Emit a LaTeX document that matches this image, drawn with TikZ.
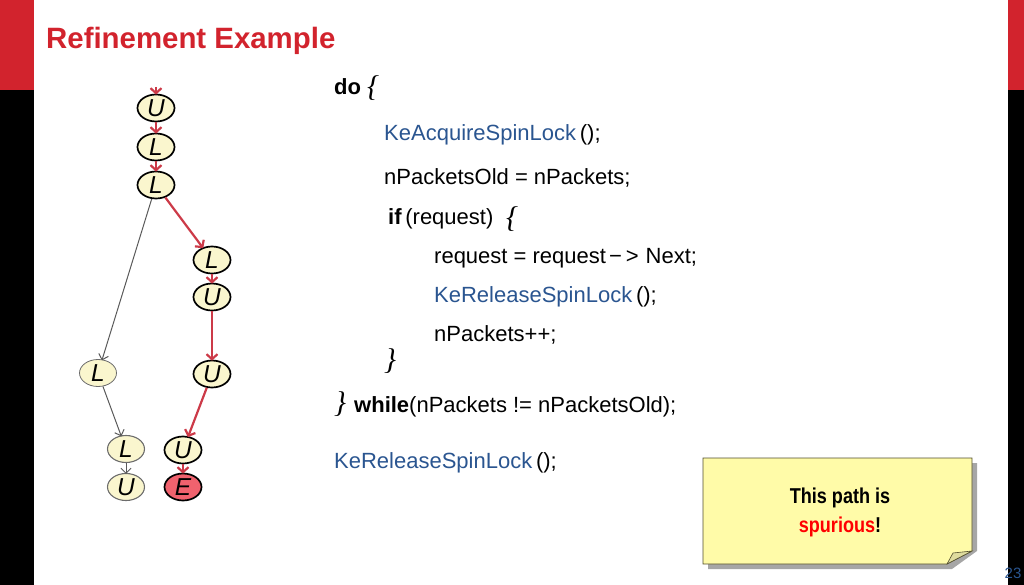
\documentclass[tikz,border=0pt]{standalone}
\usepackage{fontspec}
\setmainfont{Liberation Sans}
\newfontfamily\bracefont{Liberation Serif}
\usetikzlibrary{arrows.meta,shapes.geometric}
\definecolor{slidered}{HTML}{D2232D}
\definecolor{codeblue}{HTML}{2A5590}
\definecolor{nodefill}{HTML}{FAF6CE}
\definecolor{errorfill}{HTML}{F0626E}
\definecolor{notefill}{HTML}{FFFBA8}
\definecolor{pathred}{HTML}{CC3A48}
\tikzset{
  statenode/.style={ellipse,draw=black,line width=1.7pt,fill=nodefill,inner sep=0pt,minimum width=37pt,minimum height=27pt,font=\fontsize{24.5}{24.5}\selectfont\itshape},
  thinnode/.style={statenode,draw=gray!85!black,line width=1.1pt},
  errornode/.style={statenode,fill=errorfill},
  redpath/.style={draw=pathred,line width=2.2pt,-{Straight Barb[length=5pt,width=11pt]},shorten >=-1pt},
  greypath/.style={draw=black!65,line width=1pt,-{Straight Barb[length=5pt,width=10pt]},shorten >=-1pt},
  codeline/.style={anchor=base west,inner sep=0pt,font=\fontsize{22}{22}\selectfont},
  bracenode/.style={anchor=base west,inner sep=0pt,font=\bracefont\itshape\fontsize{30}{30}\selectfont},
}
\begin{document}
\begin{tikzpicture}[x=1pt,y=-1pt]
        \useasboundingbox (0,0) rectangle (1024,585);
        % side bars
        \fill[black] (0,0) rectangle (34,585);
        \fill[black] (1008,0) rectangle (1024,585);
        \fill[slidered] (0,0) rectangle (34,90);
        \fill[slidered] (1008,0) rectangle (1024,90);
        \node[anchor=base west,inner sep=0pt,text=slidered,font=\bfseries\fontsize{29.4}{29.4}\selectfont] (title) at (46,49) {Refinement Example};
        % tree
        \coordinate (start) at (156,87);
        \node[statenode] (u1) at (156,108) {U};
        \node[statenode] (l1) at (156,147) {L};
        \node[statenode] (l2) at (156,185) {L};
        \node[statenode] (l3) at (212,260) {L};
        \node[statenode] (u2) at (212,297) {U};
        \node[statenode] (u3) at (212,374) {U};
        \node[statenode] (u4) at (183,450) {U};
        \node[errornode] (err) at (183,487) {E};
        \node[thinnode,line width=.8pt] (l4) at (98,373) {L};
        \node[thinnode] (l5) at (126,449) {L};
        \node[thinnode] (u5) at (126,487) {U};
        \draw[redpath] (start) -- (u1);
        \draw[redpath] (u1) -- (l1);
        \draw[redpath] (l1) -- (l2);
        \draw[redpath] (l2) -- (l3);
        \draw[redpath] (l3) -- (u2);
        \draw[redpath] (u2) -- (u3);
        \draw[redpath] (u3) -- (u4);
        \draw[redpath] (u4) -- (err);
        \draw[greypath] (l2) -- (l4);
        \draw[greypath] (l4) -- (l5);
        \draw[greypath] (l5) -- (u5);
        % code
        \node[codeline] (cdo) at (334,95) {\textbf{do}};
        \node[bracenode] (bdo) at (367,97) {\{};
        \node[codeline] (acq) at (384,141) {\textcolor{codeblue}{KeAcquireSpinLock}\,();};
        \node[codeline] (old) at (384,185) {nPacketsOld = nPackets;};
        \node[codeline] (cif) at (388,225) {\textbf{if}\,(request)};
        \node[bracenode] (bif) at (506,227) {\{};
        \node[codeline] (req) at (434,263) {request = request\kern3pt−\kern4pt>\kern7pt Next;};
        \node[codeline] (rel1) at (434,302) {\textcolor{codeblue}{KeReleaseSpinLock}\,();};
        \node[codeline] (inc) at (434,341) {nPackets++;};
        \node[bracenode] (eif) at (384,369) {\}};
        \node[bracenode] (edo) at (334,412) {\}};
        \node[codeline] (cwh) at (354,412) {\textbf{while}(nPackets != nPacketsOld);};
        \node[codeline] (rel2) at (334,468) {\textcolor{codeblue}{KeReleaseSpinLock}\,();};
        % note
        \fill[black!35] (708,463) -- (977,463) -- (977,551) -- (952,569) -- (708,569) -- cycle;
        \draw[black!55!olive,fill=notefill,line width=.7pt] (703,458) -- (972,458) -- (972,551) -- (947,564) -- (703,564) -- cycle;
        \draw[black!55!olive,fill=notefill!75!gray,line width=.6pt] (972,551) -- (953,553) -- (947,564) -- cycle;
        \node[align=center,inner sep=0pt,xscale=.84,font=\bfseries\fontsize{21.5}{29}\selectfont] (note) at (840,512) {This path is\\\textcolor{red}{spurious}!};
        \node[inner sep=0pt,text=codeblue,font=\fontsize{15}{15}\selectfont] (page) at (1013,573) {23};
    \end{tikzpicture}
\end{document}
